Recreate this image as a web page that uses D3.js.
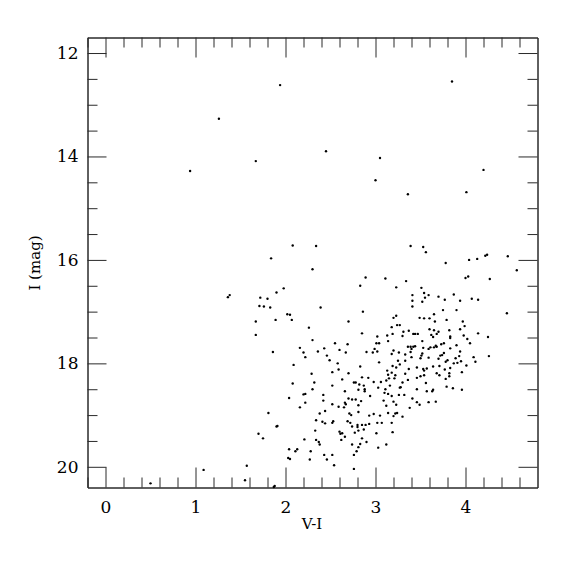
<!DOCTYPE html>
<meta charset="utf-8">
<script src="https://d3js.org/d3.v7.min.js"></script>
<style>
  body { margin: 0; background: #fff; }
</style>
<div id="cmd"></div>
<script>
  // colour (V-I) and magnitude (I) of each star
  var colorVI = [
    0.94, 1.26, 1.94, 3.85, 2.45, 3.05, 3.00, 3.36, 4.01, 4.20, 1.67, 0.50, 1.09, 1.36, 1.38,
    1.84, 1.98, 1.90, 1.72, 1.80, 1.71, 1.76, 1.83, 2.02, 1.89, 1.67, 1.67, 1.86, 2.08, 2.34, 2.30,
    2.04, 1.81, 1.90, 1.91, 1.70, 1.75, 2.04, 2.03, 2.05, 1.57, 1.55, 1.87, 1.88,
    2.89, 2.83, 2.39, 2.86, 2.05, 2.07, 2.70, 2.26, 2.85, 3.02, 2.30, 2.55, 2.69, 3.01, 3.04, 2.16,
    2.43, 2.60, 2.36, 2.20, 2.67, 2.90, 2.97, 3.02, 2.99, 2.22, 2.46, 2.49, 3.04, 2.58, 2.09, 2.83,
    2.59, 2.52, 2.70, 2.29, 2.63, 2.85, 2.92,
    2.08, 2.32, 2.52, 2.76, 2.78, 2.82, 2.87, 2.98, 3.06, 3.12, 3.16, 3.27, 3.03, 3.11, 2.30, 2.88,
    2.88, 2.20, 2.22, 2.42, 2.81, 2.94, 3.10, 3.14, 3.18, 3.26, 2.66, 2.70, 2.74, 2.78, 2.84, 3.09,
    2.42, 2.22, 2.52, 3.20, 2.16, 2.59, 2.65, 2.66, 2.67, 2.81, 3.12, 3.23, 2.44, 2.38, 2.71, 2.73,
    2.81, 2.93, 2.98, 3.05, 3.14, 3.22, 3.24, 3.20, 2.34, 2.41, 2.44, 2.52, 2.53, 2.69, 2.72, 2.80,
    2.85, 2.89, 2.93, 3.02, 3.07, 3.18, 2.74, 2.80, 2.33, 2.60, 2.61, 2.63, 2.66, 2.77, 2.81, 2.87,
    3.01, 3.19, 2.21, 2.34, 2.37, 2.38, 2.62, 2.74, 2.83, 2.85, 2.90, 3.12, 2.81, 3.03, 2.13, 2.11,
    2.28, 2.79, 2.76, 2.43, 2.52, 2.27, 2.46, 2.54, 2.76,
    3.39, 3.53, 3.56, 4.24, 4.22, 4.47, 4.13, 4.04, 3.78, 4.57, 4.03, 4.00, 3.11, 4.27, 3.34, 3.23,
    3.51, 3.54, 3.87, 3.41, 3.59, 3.70, 3.55, 4.07, 3.77, 4.14, 3.94, 3.41, 3.52, 3.41, 3.75, 3.90,
    4.46, 3.65, 3.23, 3.20, 3.49, 3.54, 3.60, 3.79, 3.66, 3.97, 3.24, 3.27, 3.18, 3.99, 3.94, 3.60,
    3.82, 3.37, 3.65, 3.70, 3.31, 3.19, 3.68, 3.42, 3.44, 3.47, 4.14, 3.13, 3.98, 3.62, 3.64, 3.83,
    3.83, 4.25, 4.02, 3.14, 3.52, 3.76, 4.05, 3.73, 3.67, 3.90, 3.44, 3.36, 3.39, 3.42, 3.68, 3.65,
    3.61, 3.53, 3.83, 3.59, 3.40, 3.20, 3.39, 3.26, 3.94, 3.76, 3.52, 3.18, 3.33, 3.74, 3.51, 3.72,
    3.93, 4.26, 3.40, 4.09, 3.59, 3.50, 3.89, 3.70, 3.80, 3.25, 3.95, 3.78, 4.11, 3.91, 3.87, 3.27,
    4.01, 3.71, 3.19, 3.64, 3.23, 3.46, 3.83, 3.57, 3.37, 3.53, 3.77, 3.13, 3.54, 3.18, 3.68, 3.82,
    3.96, 3.33, 3.14, 3.22, 3.54, 3.71, 3.50, 3.82, 3.15, 3.21, 3.30, 3.33,
    3.30, 3.56, 3.28, 3.79, 3.86, 3.46, 3.64, 3.63, 3.96, 3.57, 3.32, 3.41, 3.46, 3.49, 3.59, 3.67,
    3.38, 3.30, 3.36, 3.46, 3.78
  ];
  var magI = [
    14.28, 13.27, 12.62, 12.55, 13.90, 14.03, 14.46, 14.73, 14.69, 14.26, 14.09, 20.32, 20.06, 16.72, 16.68,
    15.97, 16.55, 16.63, 16.73, 16.75, 16.89, 16.90, 16.92, 17.05, 17.16, 17.19, 17.45, 17.78, 15.72, 15.73, 16.18,
    18.67, 18.96, 19.22, 19.21, 19.36, 19.45, 19.66, 19.83, 19.85, 19.98, 20.26, 20.39, 20.37,
    16.34, 16.50, 16.92, 17.00, 17.06, 17.16, 17.19, 17.31, 17.42, 17.48, 17.55, 17.61, 17.63, 17.61, 17.61, 17.70,
    17.71, 17.74, 17.77, 17.79, 17.79, 17.78, 17.79, 17.77, 17.72, 17.88, 17.85, 17.94, 17.98, 18.00, 18.03, 18.06,
    18.12, 18.17, 18.19, 18.20, 18.31, 18.27, 18.28,
    18.39, 18.37, 18.43, 18.37, 18.37, 18.41, 18.43, 18.36, 18.36, 18.33, 18.43, 18.47, 18.47, 18.50, 18.50, 18.50,
    18.54, 18.60, 18.59, 18.61, 18.51, 18.63, 18.57, 18.59, 18.63, 18.61, 18.54, 18.68, 18.70, 18.70, 18.73, 18.72,
    18.72, 18.76, 18.79, 18.74, 18.85, 18.84, 18.85, 18.76, 18.79, 18.81, 18.82, 18.80, 18.92, 18.97, 18.97, 19.00,
    18.94, 19.01, 18.98, 19.01, 18.96, 18.97, 18.96, 19.02, 19.10, 19.13, 19.16, 19.15, 19.12, 19.12, 19.15, 19.19,
    19.19, 19.19, 19.17, 19.15, 19.15, 19.15, 19.22, 19.23, 19.30, 19.32, 19.36, 19.35, 19.42, 19.34, 19.30, 19.28,
    19.35, 19.33, 19.47, 19.48, 19.52, 19.57, 19.48, 19.57, 19.56, 19.45, 19.52, 19.57, 19.62, 19.63, 19.66, 19.70,
    19.70, 19.70, 19.77, 19.77, 19.77, 19.86, 19.86, 19.97, 20.04,
    15.73, 15.75, 15.85, 15.90, 15.92, 15.93, 15.98, 16.00, 16.06, 16.20, 16.32, 16.35, 16.36, 16.37, 16.41, 16.53,
    16.54, 16.64, 16.67, 16.68, 16.68, 16.71, 16.73, 16.75, 16.77, 16.77, 16.79, 16.79, 16.81, 16.90, 16.97, 16.97,
    17.03, 17.05, 17.08, 17.12, 17.12, 17.13, 17.13, 17.16, 17.19, 17.19, 17.26, 17.26, 17.30, 17.28, 17.34, 17.34,
    17.36, 17.37, 17.36, 17.39, 17.39, 17.43, 17.43, 17.43, 17.43, 17.43, 17.42, 17.46, 17.46, 17.45, 17.49, 17.48,
    17.51, 17.49, 17.53, 17.57, 17.57, 17.61, 17.61, 17.63, 17.66, 17.65, 17.67, 17.68, 17.68, 17.68, 17.68, 17.69,
    17.69, 17.70, 17.71, 17.72, 17.72, 17.75, 17.78, 17.79, 17.77, 17.80, 17.81, 17.82, 17.83, 17.84, 17.85, 17.85,
    17.86, 17.86, 17.88, 17.88, 17.89, 17.90, 17.90, 17.91, 17.94, 17.95, 17.96, 17.97, 17.97, 17.99, 18.00, 18.02,
    18.04, 18.05, 18.05, 18.06, 18.08, 18.08, 18.09, 18.10, 18.11, 18.11, 18.12, 18.14, 18.14, 18.18, 18.19, 18.19,
    18.17, 18.20, 18.22, 18.23, 18.23, 18.23, 18.25, 18.25, 18.29, 18.29, 17.47, 17.95,
    18.37, 18.38, 18.46, 18.45, 18.48, 18.50, 18.51, 18.54, 18.51, 18.54, 18.61, 18.68, 18.75, 18.80, 18.75, 18.74,
    18.86, 19.03, 18.32, 18.28, 18.30
  ];

  // tick values
  var xMajor = [0, 1, 2, 3, 4];
  var xMinor = [-0.2, 0.2, 0.4, 0.6, 0.8, 1.2, 1.4, 1.6, 1.8, 2.2, 2.4, 2.6, 2.8, 3.2, 3.4, 3.6, 3.8, 4.2, 4.4, 4.6];
  var yMajor = [12, 14, 16, 18, 20];
  var yMinor = [12.5, 13, 13.5, 14.5, 15, 15.5, 16.5, 17, 17.5, 18.5, 19, 19.5];

  var stars = colorVI.map(function (v, i) { return { vi: v, mag: magI[i] }; });

  var svg = d3.select("#cmd")
      .append("svg")
      .attr("width", 575)
      .attr("height", 575);

  var x = d3.scaleLinear().domain([-0.2, 4.8]).range([87.5, 537.5]);
  var y = d3.scaleLinear().domain([11.7, 20.4]).range([37.5, 487.5]);

  var font = "'DejaVu Serif', serif";
  var ink = "#2a2a2a";

  function styleAxis(g) {
    g.selectAll("path, line").attr("stroke", ink).attr("stroke-width", 1);
    g.selectAll("text").attr("fill", "#000").attr("font-family", font).attr("font-size", 17);
  }

  // bottom axis, ticks pointing inward
  svg.append("g")
      .attr("transform", "translate(0,487.5)")
      .call(d3.axisBottom(x).tickValues(xMinor).tickSize(-10).tickSizeOuter(0).tickFormat(""))
      .call(styleAxis);
  svg.append("g")
      .attr("transform", "translate(0,487.5)")
      .call(d3.axisBottom(x).tickValues(xMajor).tickSize(-20).tickSizeOuter(0).tickPadding(13).tickFormat(d3.format("d")))
      .call(styleAxis);

  // top axis
  svg.append("g")
      .attr("transform", "translate(0,37.5)")
      .call(d3.axisTop(x).tickValues(xMinor).tickSize(-10).tickSizeOuter(0).tickFormat(""))
      .call(styleAxis);
  svg.append("g")
      .attr("transform", "translate(0,37.5)")
      .call(d3.axisTop(x).tickValues(xMajor).tickSize(-20).tickSizeOuter(0).tickFormat(""))
      .call(styleAxis);

  // left axis
  svg.append("g")
      .attr("transform", "translate(87.5,0)")
      .call(d3.axisLeft(y).tickValues(yMinor).tickSize(-10).tickSizeOuter(0).tickFormat(""))
      .call(styleAxis);
  svg.append("g")
      .attr("transform", "translate(87.5,0)")
      .call(d3.axisLeft(y).tickValues(yMajor).tickSize(-19).tickSizeOuter(0).tickPadding(9).tickFormat(d3.format("d")))
      .call(styleAxis);

  // right axis
  svg.append("g")
      .attr("transform", "translate(537.5,0)")
      .call(d3.axisRight(y).tickValues(yMinor).tickSize(-10).tickSizeOuter(0).tickFormat(""))
      .call(styleAxis);
  svg.append("g")
      .attr("transform", "translate(537.5,0)")
      .call(d3.axisRight(y).tickValues(yMajor).tickSize(-19).tickSizeOuter(0).tickFormat(""))
      .call(styleAxis);

  // stars
  svg.append("g")
      .selectAll("circle")
      .data(stars)
      .enter()
      .append("circle")
      .attr("cx", function (d) { return x(d.vi); })
      .attr("cy", function (d) { return y(d.mag); })
      .attr("r", 1.2)
      .attr("fill", "#000");

  // axis titles
  svg.append("text")
      .attr("x", 312)
      .attr("y", 529)
      .attr("text-anchor", "middle")
      .attr("font-family", font)
      .attr("font-size", 15)
      .text("V-I");

  svg.append("text")
      .attr("transform", "translate(40,263) rotate(-90)")
      .attr("text-anchor", "middle")
      .attr("font-family", font)
      .attr("font-size", 15)
      .text("I (mag)");
</script>
